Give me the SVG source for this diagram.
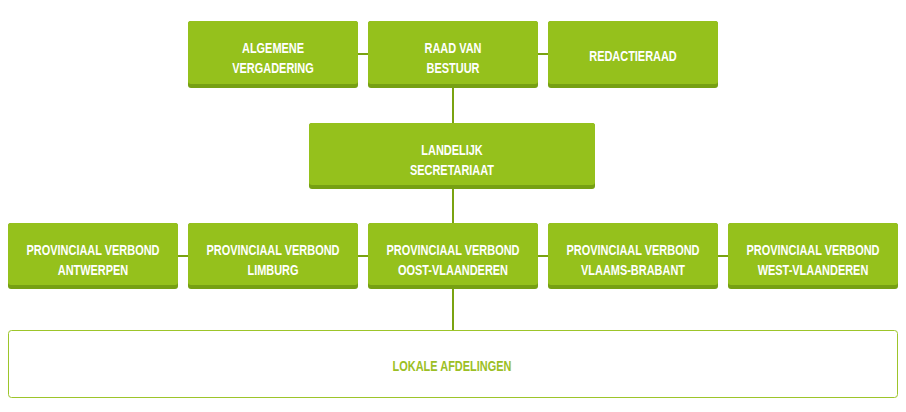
<svg xmlns="http://www.w3.org/2000/svg" width="906" height="412" viewBox="0 0 906 412">
<style>
.sh{fill:#76a013}
.bx{fill:#95c11c}
.t{font-family:"Liberation Sans",Arial,sans-serif;font-weight:bold;font-size:15px;fill:#ffffff;text-anchor:middle}
.c{stroke:#7aa311;stroke-width:2;fill:none}
.lk{font-family:"Liberation Sans",Arial,sans-serif;font-weight:bold;font-size:15px;fill:#9cbf25;text-anchor:middle}
</style>
<rect width="906" height="412" fill="#ffffff"/>
<g id="connectors">
<line class="c" x1="358" y1="54" x2="368" y2="54"/>
<line class="c" x1="538" y1="54" x2="548" y2="54"/>
<line class="c" x1="453" y1="88" x2="453" y2="123"/>
<line class="c" x1="453" y1="189" x2="453" y2="223"/>
<line class="c" x1="178" y1="256" x2="188" y2="256"/>
<line class="c" x1="358" y1="256" x2="368" y2="256"/>
<line class="c" x1="538" y1="256" x2="548" y2="256"/>
<line class="c" x1="718" y1="256" x2="728" y2="256"/>
<line class="c" x1="453" y1="289" x2="453" y2="330"/>
</g>
<g id="algemene">
<rect class="sh" x="188" y="21" width="170" height="67" rx="3"/>
<rect class="bx" x="188" y="21" width="170" height="63" rx="3"/>
<text class="t" transform="translate(273 52.5) scale(0.73 1)">ALGEMENE</text>
<text class="t" transform="translate(273 72.5) scale(0.73 1)">VERGADERING</text>
</g>
<g id="raad">
<rect class="sh" x="368" y="21" width="170" height="67" rx="3"/>
<rect class="bx" x="368" y="21" width="170" height="63" rx="3"/>
<text class="t" transform="translate(453 52.5) scale(0.73 1)">RAAD VAN</text>
<text class="t" transform="translate(453 72.5) scale(0.73 1)">BESTUUR</text>
</g>
<g id="redactieraad">
<rect class="sh" x="548" y="21" width="170" height="67" rx="3"/>
<rect class="bx" x="548" y="21" width="170" height="63" rx="3"/>
<text class="t" transform="translate(633 61) scale(0.73 1)">REDACTIERAAD</text>
</g>
<g id="landelijk">
<rect class="sh" x="309" y="123" width="286" height="66" rx="3"/>
<rect class="bx" x="309" y="123" width="286" height="62" rx="3"/>
<text class="t" transform="translate(452 154.5) scale(0.73 1)">LANDELIJK</text>
<text class="t" transform="translate(452 174.5) scale(0.73 1)">SECRETARIAAT</text>
</g>
<g id="antwerpen">
<rect class="sh" x="8" y="223" width="170" height="66" rx="3"/>
<rect class="bx" x="8" y="223" width="170" height="62" rx="3"/>
<text class="t" transform="translate(93 254.5) scale(0.73 1)">PROVINCIAAL VERBOND</text>
<text class="t" transform="translate(93 274.5) scale(0.73 1)">ANTWERPEN</text>
</g>
<g id="limburg">
<rect class="sh" x="188" y="223" width="170" height="66" rx="3"/>
<rect class="bx" x="188" y="223" width="170" height="62" rx="3"/>
<text class="t" transform="translate(273 254.5) scale(0.73 1)">PROVINCIAAL VERBOND</text>
<text class="t" transform="translate(273 274.5) scale(0.73 1)">LIMBURG</text>
</g>
<g id="oost">
<rect class="sh" x="368" y="223" width="170" height="66" rx="3"/>
<rect class="bx" x="368" y="223" width="170" height="62" rx="3"/>
<text class="t" transform="translate(453 254.5) scale(0.73 1)">PROVINCIAAL VERBOND</text>
<text class="t" transform="translate(453 274.5) scale(0.73 1)">OOST-VLAANDEREN</text>
</g>
<g id="vlaams">
<rect class="sh" x="548" y="223" width="170" height="66" rx="3"/>
<rect class="bx" x="548" y="223" width="170" height="62" rx="3"/>
<text class="t" transform="translate(633 254.5) scale(0.73 1)">PROVINCIAAL VERBOND</text>
<text class="t" transform="translate(633 274.5) scale(0.73 1)">VLAAMS-BRABANT</text>
</g>
<g id="west">
<rect class="sh" x="728" y="223" width="170" height="66" rx="3"/>
<rect class="bx" x="728" y="223" width="170" height="62" rx="3"/>
<text class="t" transform="translate(813 254.5) scale(0.73 1)">PROVINCIAAL VERBOND</text>
<text class="t" transform="translate(813 274.5) scale(0.73 1)">WEST-VLAANDEREN</text>
</g>
<g id="lokale">
<rect x="8.5" y="330.5" width="889" height="67" rx="3" fill="#ffffff" stroke="#9dc52a" stroke-width="1"/>
<text class="lk" transform="translate(452 370.5) scale(0.73 1)">LOKALE AFDELINGEN</text>
</g>
</svg>
